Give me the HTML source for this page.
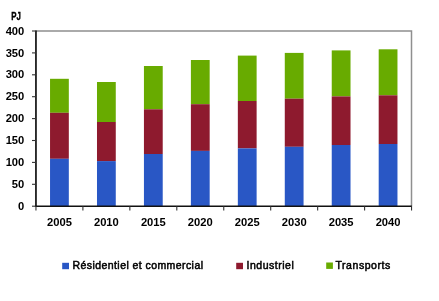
<!DOCTYPE html>
<html><head><meta charset="utf-8"><style>
html,body{margin:0;padding:0;background:#fff;width:439px;height:301px;overflow:hidden}
svg{display:block;will-change:transform;filter:blur(0.3px)}
text{font-family:"Liberation Sans",sans-serif;font-weight:bold;font-size:11.2px;fill:#000}
.lg{font-weight:normal;stroke:#000;stroke-width:0.5px;font-size:10.5px}

</style></head><body>
<svg width="439" height="301" viewBox="0 0 439 301">
<rect width="439" height="301" fill="#fff"/>
<rect x="50.04" y="78.80" width="18.78" height="34.00" fill="#68ab00"/>
<rect x="50.04" y="112.80" width="18.78" height="46.00" fill="#8e1a2e"/>
<rect x="50.04" y="158.80" width="18.78" height="47.40" fill="#2957c5"/>
<rect x="96.99" y="82.00" width="18.78" height="40.00" fill="#68ab00"/>
<rect x="96.99" y="122.00" width="18.78" height="39.10" fill="#8e1a2e"/>
<rect x="96.99" y="161.10" width="18.78" height="45.10" fill="#2957c5"/>
<rect x="143.94" y="66.00" width="18.78" height="43.30" fill="#68ab00"/>
<rect x="143.94" y="109.30" width="18.78" height="44.70" fill="#8e1a2e"/>
<rect x="143.94" y="154.00" width="18.78" height="52.20" fill="#2957c5"/>
<rect x="190.89" y="60.00" width="18.78" height="44.20" fill="#68ab00"/>
<rect x="190.89" y="104.20" width="18.78" height="46.70" fill="#8e1a2e"/>
<rect x="190.89" y="150.90" width="18.78" height="55.30" fill="#2957c5"/>
<rect x="237.84" y="55.60" width="18.78" height="45.40" fill="#68ab00"/>
<rect x="237.84" y="101.00" width="18.78" height="47.40" fill="#8e1a2e"/>
<rect x="237.84" y="148.40" width="18.78" height="57.80" fill="#2957c5"/>
<rect x="284.78" y="52.90" width="18.78" height="45.80" fill="#68ab00"/>
<rect x="284.78" y="98.70" width="18.78" height="48.10" fill="#8e1a2e"/>
<rect x="284.78" y="146.80" width="18.78" height="59.40" fill="#2957c5"/>
<rect x="331.74" y="50.40" width="18.78" height="46.00" fill="#68ab00"/>
<rect x="331.74" y="96.40" width="18.78" height="48.60" fill="#8e1a2e"/>
<rect x="331.74" y="145.00" width="18.78" height="61.20" fill="#2957c5"/>
<rect x="378.69" y="49.30" width="18.78" height="46.00" fill="#68ab00"/>
<rect x="378.69" y="95.30" width="18.78" height="48.70" fill="#8e1a2e"/>
<rect x="378.69" y="144.00" width="18.78" height="62.20" fill="#2957c5"/>
<path d="M35.95 31.0H411.5V206.2" fill="none" stroke="#8f8f8f" stroke-width="1.5"/>
<path d="M35.95 30.5V206.95" stroke="#111" stroke-width="1.7"/>
<path d="M34.95 206.2H411.9" stroke="#111" stroke-width="1.6"/>
<path d="M32 206.20H35.95" stroke="#333" stroke-width="1.1"/>
<path d="M32 184.30H35.95" stroke="#333" stroke-width="1.1"/>
<path d="M32 162.40H35.95" stroke="#333" stroke-width="1.1"/>
<path d="M32 140.50H35.95" stroke="#333" stroke-width="1.1"/>
<path d="M32 118.60H35.95" stroke="#333" stroke-width="1.1"/>
<path d="M32 96.70H35.95" stroke="#333" stroke-width="1.1"/>
<path d="M32 74.80H35.95" stroke="#333" stroke-width="1.1"/>
<path d="M32 52.90H35.95" stroke="#333" stroke-width="1.1"/>
<path d="M32 31.00H35.95" stroke="#333" stroke-width="1.1"/>
<path d="M35.95 206.2V210.4" stroke="#333" stroke-width="1.1"/>
<path d="M82.90 206.2V210.4" stroke="#333" stroke-width="1.1"/>
<path d="M129.85 206.2V210.4" stroke="#333" stroke-width="1.1"/>
<path d="M176.80 206.2V210.4" stroke="#333" stroke-width="1.1"/>
<path d="M223.75 206.2V210.4" stroke="#333" stroke-width="1.1"/>
<path d="M270.70 206.2V210.4" stroke="#333" stroke-width="1.1"/>
<path d="M317.65 206.2V210.4" stroke="#333" stroke-width="1.1"/>
<path d="M364.60 206.2V210.4" stroke="#333" stroke-width="1.1"/>
<path d="M411.55 206.2V210.4" stroke="#333" stroke-width="1.1"/>
<text x="24.3" y="210.10" text-anchor="end">0</text>
<text x="24.3" y="188.20" text-anchor="end">50</text>
<text x="24.3" y="166.30" text-anchor="end">100</text>
<text x="24.3" y="144.40" text-anchor="end">150</text>
<text x="24.3" y="122.00" text-anchor="end">200</text>
<text x="24.3" y="100.00" text-anchor="end">250</text>
<text x="24.3" y="78.10" text-anchor="end">300</text>
<text x="24.3" y="56.70" text-anchor="end">350</text>
<text x="24.3" y="34.90" text-anchor="end">400</text>
<text x="59.43" y="226.3" text-anchor="middle">2005</text>
<text x="106.38" y="226.3" text-anchor="middle">2010</text>
<text x="153.33" y="226.3" text-anchor="middle">2015</text>
<text x="200.28" y="226.3" text-anchor="middle">2020</text>
<text x="247.22" y="226.3" text-anchor="middle">2025</text>
<text x="294.18" y="226.3" text-anchor="middle">2030</text>
<text x="341.13" y="226.3" text-anchor="middle">2035</text>
<text x="388.08" y="226.3" text-anchor="middle">2040</text>
<text x="11.2" y="19.9" textLength="9.6" lengthAdjust="spacingAndGlyphs" style="font-size:10px;stroke:#000;stroke-width:0.35px">PJ</text>
<rect x="62.2" y="262.8" width="6.8" height="6.4" fill="#2957c5"/>
<text x="72.5" y="269" textLength="130.5" lengthAdjust="spacing" class="lg">Résidentiel et commercial</text>
<rect x="236.2" y="262.8" width="6.8" height="6.4" fill="#8e1a2e"/>
<text x="246.5" y="269" textLength="47.3" lengthAdjust="spacing" class="lg">Industriel</text>
<rect x="326.2" y="262.5" width="6.7" height="6.4" fill="#68ab00"/>
<text x="335.5" y="269" textLength="54.7" lengthAdjust="spacing" class="lg">Transports</text>
</svg>
</body></html>
